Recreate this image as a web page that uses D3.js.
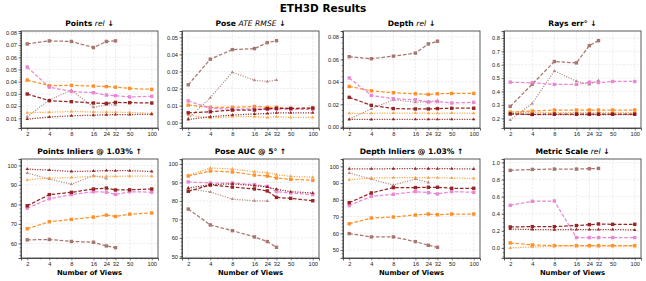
<!DOCTYPE html>
<html>
<head>
<meta charset="utf-8">
<script src="https://cdn.jsdelivr.net/npm/d3@7"></script>
<style>
  body { margin: 0; background: #fff; }
  svg { font-family: "DejaVu Sans", sans-serif; }
  .tick text { font-size: 5.7px; fill: #222; }
  .domain { stroke: #333; stroke-width: 0.8; }
  .tick line { stroke: #333; stroke-width: 0.6; }
</style>
</head>
<body>
<svg id="chart" width="646" height="281"></svg>
<script>
// x values shared by every panel
var views = [2, 4, 8, 16, 24, 32, 50, 100];
var viewTicks = [2, 4, 8, 16, 24, 32, 50, 100];

// series order in each metric array:
// brown dashed, brown dotted, orange dashed, orange dotted, pink dashed, dark red dashed, dark red dotted
var seriesNames = ["brownDash", "brownDot", "orangeDash", "orangeDot", "pinkDash", "redDash", "redDot"];

var pointsRel = [
    [0.071, 0.0735, 0.073, 0.068, 0.073, 0.0735],
    [0.0113, 0.025, 0.033, 0.019, 0.021, 0.021],
    [0.0413, 0.0367, 0.037, 0.0364, 0.036, 0.0355, 0.0345, 0.0337],
    [0.0146, 0.015, 0.0155, 0.0152, 0.015, 0.015, 0.0148, 0.014],
    [0.052, 0.0355, 0.032, 0.031, 0.029, 0.0285, 0.0275, 0.028],
    [0.0299, 0.0244, 0.0236, 0.0225, 0.0222, 0.023, 0.0228, 0.0225],
    [0.0093, 0.011, 0.012, 0.0125, 0.0128, 0.013, 0.013, 0.0133]
];
var poseAte = [
    [0.0222, 0.0372, 0.0428, 0.0434, 0.0469, 0.048],
    [0.0025, 0.0146, 0.0296, 0.0249, 0.0241, 0.025],
    [0.0103, 0.009, 0.009, 0.0095, 0.009, 0.009, 0.0082, 0.0084],
    [0.0045, 0.0027, 0.0035, 0.0035, 0.0031, 0.0035, 0.0031, 0.0031],
    [0.0128, 0.0085, 0.0078, 0.0082, 0.0078, 0.008, 0.0078, 0.0078],
    [0.0058, 0.0064, 0.0074, 0.0074, 0.0082, 0.0084, 0.0084, 0.0086],
    [0.0019, 0.0035, 0.0045, 0.0051, 0.0054, 0.0058, 0.0058, 0.0058]
];
var depthRel = [
    [0.0624, 0.0606, 0.0629, 0.0656, 0.0738, 0.0762],
    [0.0068, 0.0159, 0.0241, 0.0218, 0.0224, 0.0232],
    [0.0359, 0.032, 0.0303, 0.0294, 0.0288, 0.0294, 0.0297, 0.0297],
    [0.012, 0.012, 0.0122, 0.0122, 0.012, 0.012, 0.0122, 0.012],
    [0.0435, 0.0279, 0.025, 0.0241, 0.022, 0.0224, 0.0212, 0.0218],
    [0.0262, 0.0191, 0.0162, 0.0159, 0.0159, 0.0162, 0.0165, 0.0165],
    [0.0065, 0.0065, 0.0066, 0.0066, 0.0066, 0.0066, 0.0066, 0.0066]
];
var raysErr = [
    [0.289, 0.455, 0.624, 0.614, 0.743, 0.78],
    [0.187, 0.311, 0.554, 0.477, 0.453, 0.482],
    [0.247, 0.254, 0.262, 0.262, 0.262, 0.262, 0.262, 0.262],
    [0.242, 0.242, 0.242, 0.242, 0.242, 0.242, 0.242, 0.242],
    [0.47, 0.465, 0.453, 0.453, 0.47, 0.467, 0.475, 0.475],
    [0.232, 0.229, 0.232, 0.232, 0.232, 0.232, 0.232, 0.232],
    [0.235, 0.227, 0.227, 0.227, 0.227, 0.227, 0.227, 0.227]
];
var pointsInliers = [
    [61.8, 62.0, 61.0, 60.6, 58.7, 57.8],
    [96.1, 93.0, 90.4, 94.7, 93.3],
    [67.5, 71.1, 72.3, 73.5, 74.5, 73.8, 75.0, 75.6],
    [92.6, 93.5, 93.8, 94.4, 94.4, 94.4, 94.5, 94.5],
    [78.1, 82.9, 85.0, 86.5, 86.3, 85.1, 86.5, 86.3],
    [79.3, 85.0, 86.2, 87.9, 88.4, 87.4, 87.5, 87.9],
    [98.1, 97.6, 96.9, 97.1, 97.4, 97.3, 97.3, 96.9]
];
var poseAuc = [
    [75.6, 67.0, 63.9, 60.5, 58.0, 54.9],
    [86.6, 84.8, 81.0, 80.1, 80.0],
    [93.5, 96.2, 95.7, 94.0, 93.5, 92.4, 91.7, 91.2],
    [93.9, 97.8, 97.3, 95.8, 95.3, 94.2, 93.3, 92.8],
    [90.3, 89.7, 89.7, 88.8, 87.9, 85.0, 84.3, 83.4],
    [85.2, 88.6, 87.5, 86.5, 85.4, 81.9, 81.4, 80.1],
    [87.0, 88.8, 89.2, 88.3, 87.5, 86.3, 85.0, 84.3]
];
var depthInliers = [
    [59.8, 57.8, 57.8, 55.0, 52.8, 51.6],
    [96.0, 92.4, 88.8, 92.4, 90.4],
    [65.7, 69.1, 69.7, 70.9, 71.5, 71.1, 71.5, 71.5],
    [92.0, 93.0, 93.2, 93.2, 93.2, 93.2, 93.0, 92.8],
    [76.5, 82.1, 83.3, 84.9, 84.3, 83.5, 84.9, 84.5],
    [78.3, 84.1, 87.3, 87.3, 87.5, 87.5, 86.9, 86.9],
    [98.5, 98.5, 98.6, 98.6, 98.6, 98.6, 98.6, 98.4]
];
var metricScale = [
    [0.907, 0.918, 0.922, 0.922, 0.926, 0.93],
    [],
    [0.058, 0.035, 0.027, 0.027, 0.027, 0.027, 0.027, 0.027],
    [0.0, 0.012, 0.02, 0.02, 0.02, 0.02, 0.02, 0.02],
    [0.498, 0.545, 0.549, 0.121, 0.121, 0.121, 0.121, 0.121],
    [0.245, 0.249, 0.249, 0.261, 0.272, 0.28, 0.276, 0.276],
    [0.22, 0.215, 0.212, 0.215, 0.215, 0.215, 0.215, 0.21]
];

// look of each series
var styles = {
    brownDash:  { color: "#9a5f56", dash: "3.6,1.8", marker: "square", opacity: 0.85 },
    brownDot:   { color: "#9a5f56", dash: "1.1,1.4", marker: "tri",    opacity: 0.7 },
    orangeDash: { color: "#ff8616", dash: "3.6,1.8", marker: "square", opacity: 0.9 },
    orangeDot:  { color: "#ff9a30", dash: "1.1,1.4", marker: "tri",    opacity: 0.9 },
    pinkDash:   { color: "#e77cd0", dash: "3.6,1.8", marker: "square", opacity: 0.9 },
    redDash:    { color: "#8b1010", dash: "3.6,1.8", marker: "square", opacity: 0.9 },
    redDot:     { color: "#8b1010", dash: "1.1,1.4", marker: "tri",    opacity: 0.9 }
};

// draw order (later on top)
var drawOrder = ["brownDash", "brownDot", "orangeDash", "orangeDot", "pinkDash", "redDash", "redDot"];

var panels = [
    { data: pointsRel, title: [["Points ", "b"], ["rel", "i"], [" \u2193", "b"]],
      domain: [0.0020, 0.0816], ticks: [0.01, 0.02, 0.03, 0.04, 0.05, 0.06, 0.07, 0.08], minor: 0.002, fmt: ".2f" },
    { data: poseAte, title: [["Pose ", "b"], ["ATE RMSE", "i"], [" \u2193", "b"]],
      domain: [-0.0031, 0.0537], ticks: [0, 0.01, 0.02, 0.03, 0.04, 0.05], minor: 0.002, fmt: ".2f" },
    { data: depthRel, title: [["Depth ", "b"], ["rel", "i"], [" \u2193", "b"]],
      domain: [-0.0011, 0.0853], ticks: [0, 0.02, 0.04, 0.06, 0.08], minor: 0.005, fmt: ".2f" },
    { data: raysErr, title: [["Rays err\u00b0  \u2193", "b"]],
      domain: [0.1276, 0.852], ticks: [0.2, 0.3, 0.4, 0.5, 0.6, 0.7, 0.8], minor: 0.02, fmt: ".1f" },
    { data: pointsInliers, title: [["Points Inliers @ 1.03%  \u2191", "b"]],
      domain: [52.5, 103.3], ticks: [60, 70, 80, 90, 100], minor: 2, fmt: "d" },
    { data: poseAuc, title: [["Pose AUC @ 5\u00b0  \u2191", "b"]],
      domain: [49.1, 102.7], ticks: [50, 60, 70, 80, 90, 100], minor: 2, fmt: "d" },
    { data: depthInliers, title: [["Depth Inliers @ 1.03%  \u2191", "b"]],
      domain: [45.2, 104.4], ticks: [50, 60, 70, 80, 90, 100], minor: 2, fmt: "d" },
    { data: metricScale, title: [["Metric Scale ", "b"], ["rel", "i"], [" \u2193", "b"]],
      domain: [-0.118, 1.04], ticks: [0, 0.2, 0.4, 0.6, 0.8, 1.0], minor: 0.05, fmt: ".1f" }
];

var svg = d3.select("#chart");
var colX = [21, 182, 343, 504];
var rowY = [[31, 128], [159, 258]];
var plotW = 137;

svg.append("text")
    .attr("x", 323).attr("y", 12)
    .attr("text-anchor", "middle")
    .attr("font-size", 10.5).attr("font-weight", "bold")
    .text("ETH3D Results");

var minorX = [3, 5, 6, 7, 9, 10, 20, 30, 40, 60, 70, 80, 90];

panels.forEach(function(p, i) {
    var row = Math.floor(i / 4), col = i % 4;
    var x0 = colX[col], y0 = rowY[row][0], y1 = rowY[row][1];
    var g = svg.append("g").attr("transform", "translate(" + x0 + "," + y0 + ")");
    var h = y1 - y0;

    // log x with matplotlib-ish 5% margin
    var lo = Math.log10(2), hi = Math.log10(100), m = (hi - lo) * 0.05;
    var x = d3.scaleLog().domain([Math.pow(10, lo - m), Math.pow(10, hi + m)]).range([0, plotW]);
    var y = d3.scaleLinear().domain(p.domain).range([h, 0]);

    // grid
    g.append("g").selectAll("line").data(viewTicks).enter().append("line")
        .attr("x1", function(d) { return x(d); }).attr("x2", function(d) { return x(d); })
        .attr("y1", 0).attr("y2", h)
        .attr("stroke", "#d8d8d8").attr("stroke-width", 0.5).attr("stroke-dasharray", "2,1.5");
    g.append("g").selectAll("line").data(p.ticks).enter().append("line")
        .attr("y1", function(d) { return y(d); }).attr("y2", function(d) { return y(d); })
        .attr("x1", 0).attr("x2", plotW)
        .attr("stroke", "#d8d8d8").attr("stroke-width", 0.5).attr("stroke-dasharray", "2,1.5");

    // series
    var line = d3.line()
        .x(function(d) { return x(d[0]); })
        .y(function(d) { return y(d[1]); });

    drawOrder.forEach(function(name) {
        var vals = p.data[seriesNames.indexOf(name)];
        if (!vals || !vals.length) return;
        var st = styles[name];
        var pts = vals.map(function(v, k) { return [views[k], v]; });
        var sg = g.append("g").attr("opacity", st.opacity);
        sg.append("path").datum(pts)
            .attr("d", line)
            .attr("fill", "none")
            .attr("stroke", st.color)
            .attr("stroke-width", 1.25)
            .attr("stroke-dasharray", st.dash);
        if (st.marker === "square") {
            sg.selectAll("rect").data(pts).enter().append("rect")
                .attr("x", function(d) { return x(d[0]) - 1.7; })
                .attr("y", function(d) { return y(d[1]) - 1.7; })
                .attr("width", 3.4).attr("height", 3.4)
                .attr("fill", st.color);
        } else {
            var tri = d3.symbol().type(d3.symbolTriangle).size(5);
            sg.selectAll("path.mk").data(pts).enter().append("path")
                .attr("class", "mk")
                .attr("d", tri)
                .attr("transform", function(d) { return "translate(" + x(d[0]) + "," + y(d[1]) + ")"; })
                .attr("fill", st.color);
        }
    });

    // frame
    g.append("rect").attr("width", plotW).attr("height", h)
        .attr("fill", "none").attr("stroke", "#333").attr("stroke-width", 0.8);

    // axes
    g.append("g").attr("transform", "translate(0," + h + ")")
        .call(d3.axisBottom(x).tickValues(viewTicks).tickFormat(d3.format("d")).tickSize(2.5).tickPadding(1.5));
    g.append("g").attr("transform", "translate(0," + h + ")")
        .call(d3.axisBottom(x).tickValues(minorX).tickFormat("").tickSize(1.3))
        .select(".domain").remove();
    g.append("g")
        .call(d3.axisLeft(y).tickValues(p.ticks).tickFormat(d3.format(p.fmt)).tickSize(2.5).tickPadding(1.5));
    var minorY = d3.range(Math.ceil(p.domain[0] / p.minor), Math.floor(p.domain[1] / p.minor) + 1)
        .map(function(k) { return k * p.minor; });
    g.append("g")
        .call(d3.axisLeft(y).tickValues(minorY).tickFormat("").tickSize(1.3))
        .select(".domain").remove();

    // title
    var t = g.append("text")
        .attr("x", plotW / 2).attr("y", -5)
        .attr("text-anchor", "middle")
        .attr("font-size", 7.6);
    p.title.forEach(function(part) {
        t.append("tspan")
            .attr("font-weight", part[1] === "b" ? "bold" : "normal")
            .attr("font-style", part[1] === "i" ? "italic" : "normal")
            .text(part[0]);
    });

    if (row === 1) {
        g.append("text")
            .attr("x", plotW / 2).attr("y", h + 17)
            .attr("text-anchor", "middle")
            .attr("font-size", 6.8).attr("font-weight", "bold")
            .text("Number of Views");
    }
});
</script>
</body>
</html>
